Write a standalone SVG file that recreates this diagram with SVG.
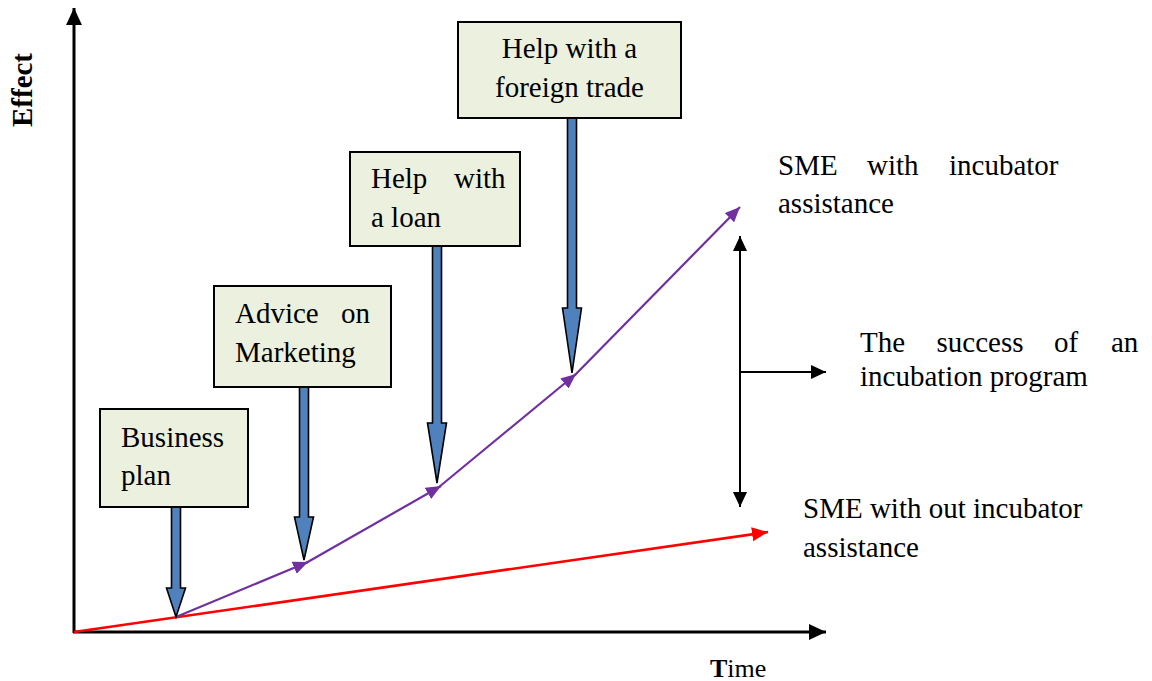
<svg xmlns="http://www.w3.org/2000/svg" width="1152" height="681" viewBox="0 0 1152 681">
  <style>
    .txt { font-family: "Liberation Serif", "Times New Roman", serif; font-size: 29px; fill: #000; }
    .box rect { fill: #EBF1DE; stroke: #000; stroke-width: 2; }
    .block { fill: #4F81BD; stroke: #000; stroke-width: 1.6; stroke-linejoin: miter; }
    .axis { stroke: #000; stroke-width: 3; fill: none; }
    .growth { stroke: #7030A0; stroke-width: 2.2; fill: none; }
    .base { stroke: #FF0000; stroke-width: 2.6; fill: none; }
    .gap { stroke: #000; stroke-width: 2; fill: none; }
  </style>
  <defs>
    <marker id="headAxis" markerUnits="userSpaceOnUse" markerWidth="20" markerHeight="20" refX="17" refY="8" orient="auto">
      <path d="M0,0 L17,8 L0,16 Z" fill="#000"/>
    </marker>
    <marker id="headPurple" markerUnits="userSpaceOnUse" markerWidth="20" markerHeight="20" refX="15" refY="6.5" orient="auto">
      <path d="M0,0 L15,6.5 L0,13 Z" fill="#7030A0"/>
    </marker>
    <marker id="headRed" markerUnits="userSpaceOnUse" markerWidth="20" markerHeight="20" refX="16" refY="7" orient="auto">
      <path d="M0,0 L16,7 L0,14 Z" fill="#FF0000"/>
    </marker>
    <marker id="headBlack" markerUnits="userSpaceOnUse" markerWidth="20" markerHeight="20" refX="15" refY="7" orient="auto-start-reverse">
      <path d="M0,0 L15,7 L0,14 Z" fill="#000"/>
    </marker>
  </defs>

  <g id="connectors">
    <!-- axes -->
    <line class="axis" x1="74" y1="633" x2="74" y2="8" marker-end="url(#headAxis)"/>
    <line class="axis" x1="73" y1="632" x2="826" y2="632" marker-end="url(#headAxis)"/>
    <!-- growth without incubator -->
    <line class="base" x1="74" y1="632" x2="768" y2="532" marker-end="url(#headRed)"/>
    <!-- growth with incubator, one segment per stage -->
    <line class="growth" x1="176" y1="617" x2="308" y2="562" marker-end="url(#headPurple)"/>
    <line class="growth" x1="306" y1="563" x2="441" y2="486" marker-end="url(#headPurple)"/>
    <line class="growth" x1="439" y1="487" x2="576" y2="374" marker-end="url(#headPurple)"/>
    <line class="growth" x1="574" y1="376" x2="740" y2="207" marker-end="url(#headPurple)"/>
    <!-- gap between the two curves -->
    <line class="gap" x1="740" y1="236" x2="740" y2="507" marker-start="url(#headBlack)" marker-end="url(#headBlack)"/>
    <line class="gap" x1="740" y1="372" x2="826" y2="372" marker-end="url(#headBlack)"/>
    <!-- support block arrows -->
    <path class="block" d="M171.5,507 H180.5 V588 H185.5 L176,617 L166.5,588 H171.5 Z"/>
    <path class="block" d="M299.5,387 H308.5 V517 H313.5 L304,560 L294.5,517 H299.5 Z"/>
    <path class="block" d="M432.5,246 H441.5 V423 H446.5 L437,483 L427.5,423 H432.5 Z"/>
    <path class="block" d="M567.5,118 H576.5 V308 H581.5 L572,373 L562.5,308 H567.5 Z"/>
  </g>

  <g id="business-plan" class="box">
    <rect x="100" y="409" width="148" height="98"/>
    <text class="txt" x="121" y="447">Business</text>
    <text class="txt" x="121" y="485">plan</text>
  </g>

  <g id="advice-marketing" class="box">
    <rect x="214" y="286" width="177" height="101"/>
    <text class="txt" y="323"><tspan x="235">Advice</tspan><tspan x="341">on</tspan></text>
    <text class="txt" x="235" y="362">Marketing</text>
  </g>

  <g id="help-loan" class="box">
    <rect x="350" y="152" width="170" height="94"/>
    <text class="txt" y="188"><tspan x="371">Help</tspan><tspan x="454">with</tspan></text>
    <text class="txt" x="371" y="227">a loan</text>
  </g>

  <g id="help-foreign-trade" class="box">
    <rect x="458" y="22" width="223" height="96"/>
    <text class="txt" x="569.5" y="58" text-anchor="middle">Help with a</text>
    <text class="txt" x="569.5" y="97" text-anchor="middle">foreign trade</text>
  </g>

  <g id="label-with-incubator">
    <text class="txt" y="175"><tspan x="778">SME</tspan><tspan x="867">with</tspan><tspan x="949">incubator</tspan></text>
    <text class="txt" x="778" y="213">assistance</text>
  </g>

  <g id="label-success">
    <text class="txt" y="352"><tspan x="860">The</tspan><tspan x="936.5">success</tspan><tspan x="1054">of</tspan><tspan x="1111">an</tspan></text>
    <text class="txt" x="860" y="386">incubation program</text>
  </g>

  <g id="label-without-incubator">
    <text class="txt" x="803" y="518">SME with out incubator</text>
    <text class="txt" x="803" y="557">assistance</text>
  </g>

  <g id="axis-labels">
    <text class="txt" x="710" y="677" style="font-size:26px"><tspan font-weight="bold">T</tspan>ime</text>
    <text class="txt" transform="translate(32,90) rotate(-90)" text-anchor="middle" font-weight="bold">Effect</text>
  </g>
</svg>
